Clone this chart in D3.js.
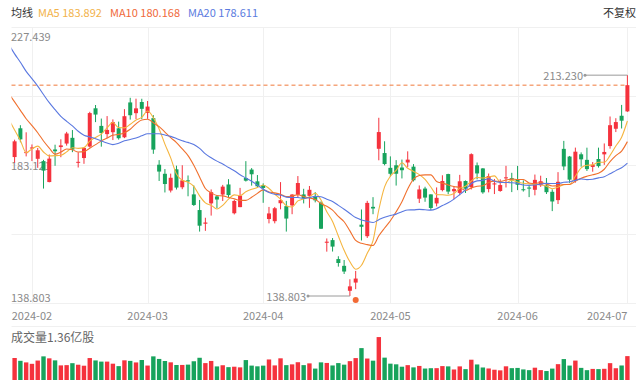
<!DOCTYPE html>
<html>
<head>
<meta charset="utf-8">
<script src="https://cdn.jsdelivr.net/npm/d3@7"></script>
<style>
  html, body { margin: 0; padding: 0; background: #fff; }
  svg { display: block; }
  text { font-family: "Noto Sans CJK SC", "Noto Sans", sans-serif; }
</style>
</head>
<body>
<svg id="chart" width="640" height="387"></svg>
<script>
// daily bars, first one (Jan 26) sits just outside the left edge
var dates = ['2024-01-26','2024-01-29','2024-01-30','2024-01-31','2024-02-01','2024-02-02','2024-02-05','2024-02-06','2024-02-07','2024-02-08','2024-02-09',
  '2024-02-12','2024-02-13','2024-02-14','2024-02-15','2024-02-16','2024-02-20','2024-02-21','2024-02-22','2024-02-23','2024-02-26','2024-02-27','2024-02-28','2024-02-29',
  '2024-03-01','2024-03-04','2024-03-05','2024-03-06','2024-03-07','2024-03-08','2024-03-11','2024-03-12','2024-03-13','2024-03-14','2024-03-15','2024-03-18','2024-03-19',
  '2024-03-20','2024-03-21','2024-03-22','2024-03-25','2024-03-26','2024-03-27','2024-03-28','2024-04-01','2024-04-02','2024-04-03','2024-04-04','2024-04-05','2024-04-08',
  '2024-04-09','2024-04-10','2024-04-11','2024-04-12','2024-04-15','2024-04-16','2024-04-17','2024-04-18','2024-04-19','2024-04-22','2024-04-23','2024-04-24','2024-04-25',
  '2024-04-26','2024-04-29','2024-04-30','2024-05-01','2024-05-02','2024-05-03','2024-05-06','2024-05-07','2024-05-08','2024-05-09','2024-05-10','2024-05-13','2024-05-14',
  '2024-05-15','2024-05-16','2024-05-17','2024-05-20','2024-05-21','2024-05-22','2024-05-23','2024-05-24','2024-05-28','2024-05-29','2024-05-30','2024-05-31','2024-06-03',
  '2024-06-04','2024-06-05','2024-06-06','2024-06-07','2024-06-10','2024-06-11','2024-06-12','2024-06-13','2024-06-14','2024-06-17','2024-06-18','2024-06-20','2024-06-21',
  '2024-06-24','2024-06-25','2024-06-26','2024-06-27','2024-06-28','2024-07-01'];

var open = [185.50,185.63,195.33,187.00,188.50,185.04,184.26,177.21,188.18,189.00,190.18,192.11,183.99,185.30,189.16,202.06,196.13,193.36,194.00,195.31,192.29,204.04,200.42,204.18,
  200.52,198.73,183.05,179.99,174.35,181.50,175.45,177.77,173.05,167.77,163.16,170.02,172.36,173.00,176.39,166.69,168.76,178.58,181.41,177.45,176.17,164.75,164.02,170.07,
  169.08,169.34,172.91,173.04,172.55,172.34,170.24,156.74,157.64,151.25,148.97,140.56,143.33,162.84,158.96,168.85,188.42,186.98,182.00,182.86,182.10,183.80,182.40,171.59,
  175.01,173.05,170.00,174.50,179.90,174.10,173.55,177.56,175.51,182.85,181.80,174.84,176.40,174.19,178.58,178.50,178.13,174.78,175.35,174.60,176.13,176.06,173.92,171.12,
  188.39,185.80,177.92,186.56,184.68,182.30,184.97,186.54,189.33,195.17,199.55,201.02];

var high = [186.78,191.48,196.36,193.97,189.88,188.69,184.68,186.49,189.79,191.62,194.12,194.73,187.26,188.89,200.88,203.17,198.60,199.44,198.32,197.57,201.78,205.60,205.30,205.28,
  204.52,199.75,184.59,181.58,180.04,182.73,182.87,179.43,176.05,171.17,165.18,174.72,172.82,176.25,178.18,171.20,175.24,184.25,181.91,179.57,176.75,168.82,168.82,177.19,
  170.86,173.16,179.22,174.93,175.88,173.81,170.69,158.19,158.33,152.20,150.94,144.44,147.26,167.97,170.88,172.12,198.87,190.95,185.86,184.60,184.78,187.56,183.26,176.06,
  175.62,173.06,175.40,179.49,180.00,175.79,179.63,177.75,186.88,183.80,181.90,180.08,178.25,178.15,182.67,180.32,182.64,177.76,176.15,179.73,179.35,178.57,174.75,180.55,
  191.08,186.00,188.81,187.20,188.79,183.95,188.80,190.21,199.30,198.72,203.20,213.23];

var low = [182.10,183.67,190.61,185.85,184.28,182.00,175.01,177.11,182.68,185.58,189.48,187.28,182.11,183.35,188.86,197.40,189.13,191.95,191.36,191.50,192.00,198.26,198.44,198.45,
  198.50,186.72,177.57,173.70,173.70,174.70,174.80,172.41,169.15,160.51,160.76,165.90,168.42,170.82,171.80,166.30,168.73,177.38,176.00,175.30,170.21,163.28,163.28,168.01,
  160.51,166.37,171.92,170.01,168.51,170.36,161.38,153.75,153.78,148.70,146.22,138.803,141.11,157.51,158.36,166.37,184.54,182.84,179.01,176.02,178.42,182.20,177.40,170.15,
  170.56,167.75,169.00,174.07,173.11,171.43,172.75,173.52,174.71,178.12,173.26,173.73,173.16,173.93,175.38,173.82,174.49,174.00,172.13,172.73,175.58,173.17,167.41,169.80,
  181.23,176.92,177.00,182.37,180.94,180.69,182.08,183.00,188.45,194.05,195.26,200.85];

var close = [183.25,190.93,191.59,187.29,188.86,187.91,181.06,185.10,187.58,189.56,193.57,188.13,184.02,188.71,200.45,199.95,193.76,194.77,197.41,191.97,199.40,199.73,202.04,201.88,
  202.64,188.14,180.74,176.54,178.65,175.34,177.77,177.54,169.48,162.50,163.57,173.80,171.32,175.66,172.82,170.83,172.63,177.67,179.83,175.79,175.22,166.63,168.38,171.11,
  164.90,172.98,176.88,171.76,174.60,171.05,161.48,157.11,155.45,149.93,147.05,142.05,144.68,162.13,170.18,168.29,194.05,183.28,179.99,180.01,181.19,184.76,177.81,174.72,
  171.97,168.47,171.89,177.55,173.99,174.84,177.46,174.95,186.60,180.11,173.74,179.24,176.75,176.19,178.79,178.08,176.29,174.77,175.00,177.94,177.48,173.79,170.66,177.29,
  182.47,178.01,187.44,184.86,181.57,183.01,182.58,187.35,196.37,197.42,197.88,209.86];

// volume, millions of shares
var volume = [107.3,125.0,109.0,100.0,91.9,110.5,134.3,123.1,111.6,83.0,84.5,95.5,86.8,81.2,124.7,111.2,104.5,104.5,92.7,78.8,111.8,108.6,99.8,113.6,
  82.1,134.3,119.7,107.9,100.4,85.3,85.6,87.4,106.5,126.3,96.0,108.2,77.2,83.8,73.0,75.5,71.8,113.2,81.8,77.7,81.6,116.7,82.9,123.2,
  84.4,88.9,101.0,84.5,94.5,64.9,100.2,96.9,82.6,96.1,87.1,107.1,124.5,181.2,122.0,109.8,243.9,127.0,92.8,89.1,75.5,84.4,71.7,79.9,
  65.1,67.0,67.3,79.0,77.4,59.8,77.4,61.7,115.3,88.3,71.1,65.5,58.3,54.8,77.8,67.3,68.6,60.1,56.0,69.9,56.2,50.9,64.8,90.0,
  118.9,82.0,110.3,68.9,55.9,63.0,61.9,63.7,95.7,66.9,82.5,135.7];

var ma5 = [198.33,194.76,191.25,187.14,188.38,189.32,187.34,186.04,186.10,186.24,187.37,188.79,188.57,188.80,190.98,192.25,193.38,195.53,197.27,195.57,195.46,196.66,198.11,199.00,
  201.14,198.89,195.09,189.99,185.34,179.88,177.81,177.17,175.76,172.53,170.17,169.38,168.13,169.37,171.43,172.89,172.65,173.92,174.76,175.35,176.23,175.03,173.17,171.43,
  169.25,168.80,170.85,171.53,172.22,173.45,171.15,167.20,163.94,159.00,154.20,150.32,147.83,149.17,153.22,157.47,167.87,175.59,179.16,181.12,183.70,181.85,180.75,179.70,
  178.09,175.55,172.97,172.92,172.77,173.35,175.15,175.76,177.57,178.79,178.57,178.93,179.29,177.21,176.94,177.81,177.22,176.82,176.59,176.42,176.30,175.80,174.97,175.43,
  176.34,176.44,179.17,182.01,182.87,182.98,183.89,183.87,186.18,189.35,192.32,197.78];

var ma10 = [207.01,204.21,201.38,198.55,196.25,193.82,191.05,188.65,186.62,187.31,188.35,188.07,187.31,187.45,188.61,189.81,191.08,192.05,193.03,193.27,193.86,195.02,196.82,198.14,
  198.36,197.17,195.87,194.05,192.17,190.51,188.35,186.13,182.87,178.93,175.03,173.59,172.65,172.56,171.98,171.53,171.02,171.03,172.06,173.39,174.56,173.84,173.55,173.09,
  172.30,172.51,172.94,172.35,171.83,171.35,169.98,169.03,167.73,165.61,163.83,160.74,157.52,156.55,156.11,155.84,159.09,161.71,164.16,167.17,170.59,174.86,178.17,179.43,
  179.61,179.63,177.41,176.84,176.24,175.72,175.35,174.37,175.24,175.78,175.96,177.04,177.52,177.39,177.87,178.19,178.07,178.06,176.90,176.68,177.05,176.51,175.90,176.01,
  176.38,176.37,177.49,178.49,179.15,179.66,180.17,181.52,184.10,186.11,187.65,190.83];

var ma20 = [223.53,220.42,217.57,214.52,212.04,209.54,206.71,203.95,201.58,199.36,197.68,196.14,194.34,193.00,192.43,191.82,191.07,190.35,189.83,190.29,191.10,191.54,192.06,192.79,
  193.48,193.49,193.48,193.05,192.60,191.89,191.10,190.57,189.85,188.54,186.69,185.38,184.26,183.31,182.08,181.02,179.68,178.58,177.47,176.16,174.79,173.72,173.10,172.83,
  172.14,172.02,171.98,171.69,171.94,172.37,172.27,171.43,170.64,169.35,168.06,166.63,165.23,164.45,163.97,163.59,164.53,165.37,165.95,166.39,167.21,167.80,167.84,167.99,
  167.86,167.73,168.25,169.27,170.20,171.45,172.97,174.61,176.71,177.61,177.78,178.33,177.47,177.11,177.05,176.96,176.71,176.21,176.07,176.23,176.51,176.77,176.71,176.70,
  177.12,177.28,177.78,178.28,178.02,178.17,178.61,179.02,180.00,181.06,182.01,183.60];

var monthTicks = ['2024-02-01','2024-03-01','2024-04-01','2024-05-01','2024-06-03','2024-07-01'];
var monthLabels = ['2024-02','2024-03','2024-04','2024-05','2024-06','2024-07'];
var priceTicks = [227.439, 183.121, 138.803];
var lastPrice = 209.86;
var legend = [
  {t: '均线', c: '#333333', x: 11},
  {t: 'MA5 183.892', c: '#f2b24a', x: 38},
  {t: 'MA10 180.168', c: '#f0693a', x: 110},
  {t: 'MA20 178.611', c: '#5b7be0', x: 188}
];

var UP = '#f5323d', DOWN = '#17a35c';
var svg = d3.select('#chart');

var x = d3.scalePoint().domain(dates).range([8.82, 627.4]);
var y = d3.scaleLinear().domain([138.803, 227.439]).range([296, 33]);
var yv = d3.scaleLinear().domain([0, 250]).range([380, 336]);

var left = 11.5, right = 636;
var gridY = [27, 96, 165, 234, 303, 326];

svg.append('defs').append('clipPath').attr('id', 'plot')
  .append('rect').attr('x', left).attr('y', 0).attr('width', 640 - left).attr('height', 387);

// grid
svg.append('g').selectAll('line').data(gridY).join('line')
  .attr('x1', left).attr('x2', right)
  .attr('y1', function(d) { return d + 0.5; }).attr('y2', function(d) { return d + 0.5; })
  .attr('stroke', '#f0f0f0');
svg.append('g').selectAll('line').data(monthTicks).join('line')
  .attr('x1', function(d) { return Math.round(x(d)) + 0.5; })
  .attr('x2', function(d) { return Math.round(x(d)) + 0.5; })
  .attr('y1', 27).attr('y2', 303)
  .attr('stroke', '#f0f0f0');

// header
svg.append('g').selectAll('text').data(legend).join('text')
  .attr('x', function(d) { return d.x; }).attr('y', 12)
  .attr('dominant-baseline', 'central')
  .attr('font-size', 11)
  .attr('fill', function(d) { return d.c; })
  .text(function(d) { return d.t; });
svg.append('text').attr('x', 636).attr('y', 12).attr('text-anchor', 'end')
  .attr('dominant-baseline', 'central').attr('font-size', 11).attr('fill', '#333')
  .text('不复权');

// price labels (under the candles)
svg.append('g').selectAll('text').data(priceTicks).join('text')
  .attr('x', 11)
  .attr('y', function(d, i) { return [36, 165, 297][i]; })
  .attr('dominant-baseline', 'central')
  .attr('font-size', 11).attr('fill', '#8a8a8a')
  .text(function(d) { return d3.format('.3f')(d); });

// month labels
svg.append('g').selectAll('text').data(monthTicks).join('text')
  .attr('x', function(d, i) { return i === monthTicks.length - 1 ? x(d) : x(d); })
  .attr('y', 315)
  .attr('text-anchor', function(d, i) { return i === monthTicks.length - 1 ? 'end' : 'middle'; })
  .attr('dominant-baseline', 'central')
  .attr('font-size', 11).attr('fill', '#8a8a8a')
  .text(function(d, i) { return monthLabels[i]; });

// last price dashed line
svg.append('line')
  .attr('x1', left).attr('x2', 628)
  .attr('y1', y(lastPrice)).attr('y2', y(lastPrice))
  .attr('stroke', '#f0793a').attr('stroke-width', 1).attr('stroke-dasharray', '4,3');

var bars = dates.map(function(d, i) {
  return {date: d, o: open[i], h: high[i], l: low[i], c: close[i], v: volume[i]};
});
var plot = svg.append('g').attr('clip-path', 'url(#plot)');
var bw = 4;

var candle = plot.append('g').selectAll('g').data(bars).join('g');
candle.append('line')
  .attr('x1', function(d) { return x(d.date); }).attr('x2', function(d) { return x(d.date); })
  .attr('y1', function(d) { return y(d.h); }).attr('y2', function(d) { return y(d.l); })
  .attr('stroke', function(d) { return d.c >= d.o ? UP : DOWN; });
candle.append('rect')
  .attr('x', function(d) { return x(d.date) - bw / 2; })
  .attr('y', function(d) { return y(Math.max(d.o, d.c)); })
  .attr('width', bw)
  .attr('height', function(d) { return Math.max(1, Math.abs(y(d.o) - y(d.c))); })
  .attr('fill', function(d) { return d.c >= d.o ? UP : DOWN; });

// moving averages
var maLine = d3.line()
  .x(function(d, i) { return x(dates[i]); })
  .y(function(d) { return y(d); })
  .curve(d3.curveMonotoneX);
[[ma5, '#f5b53f'], [ma10, '#f0702e'], [ma20, '#5a78e0']].forEach(function(m) {
  plot.append('path').datum(m[0]).attr('d', maLine)
    .attr('fill', 'none').attr('stroke', m[1]).attr('stroke-width', 1.1);
});

// volume
plot.append('g').selectAll('rect').data(bars).join('rect')
  .attr('x', function(d) { return x(d.date) - 2.2; })
  .attr('y', function(d) { return yv(d.v); })
  .attr('width', 4.4)
  .attr('height', function(d) { return yv(0) - yv(d.v); })
  .attr('fill', function(d) { return d.c >= d.o ? UP : DOWN; });

svg.append('text').attr('x', 11).attr('y', 336)
  .attr('dominant-baseline', 'central').attr('font-size', 12).attr('fill', '#666')
  .text('成交量1.36亿股');

// high / low markers
var hiIdx = d3.maxIndex(high), loIdx = d3.minIndex(low);
function marker(idx, val, tx) {
  var xc = x(dates[idx]), yc = y(val);
  var g = svg.append('g');
  g.append('line').attr('x1', tx + 2).attr('x2', xc).attr('y1', yc).attr('y2', yc)
    .attr('stroke', '#9a9a9a');
  g.append('circle').attr('cx', tx + 2).attr('cy', yc).attr('r', 1.5).attr('fill', '#9a9a9a');
  g.append('text').attr('x', tx).attr('y', yc).attr('text-anchor', 'end')
    .attr('dominant-baseline', 'central').attr('font-size', 11).attr('fill', '#8a8a8a')
    .text(d3.format('.3f')(val));
}
marker(hiIdx, high[hiIdx], 583);
marker(loIdx, low[loIdx], 306);

// event dot under Apr 23
svg.append('circle').attr('cx', x('2024-04-23')).attr('cy', 300).attr('r', 3).attr('fill', '#f26a35');
</script>
</body>
</html>
